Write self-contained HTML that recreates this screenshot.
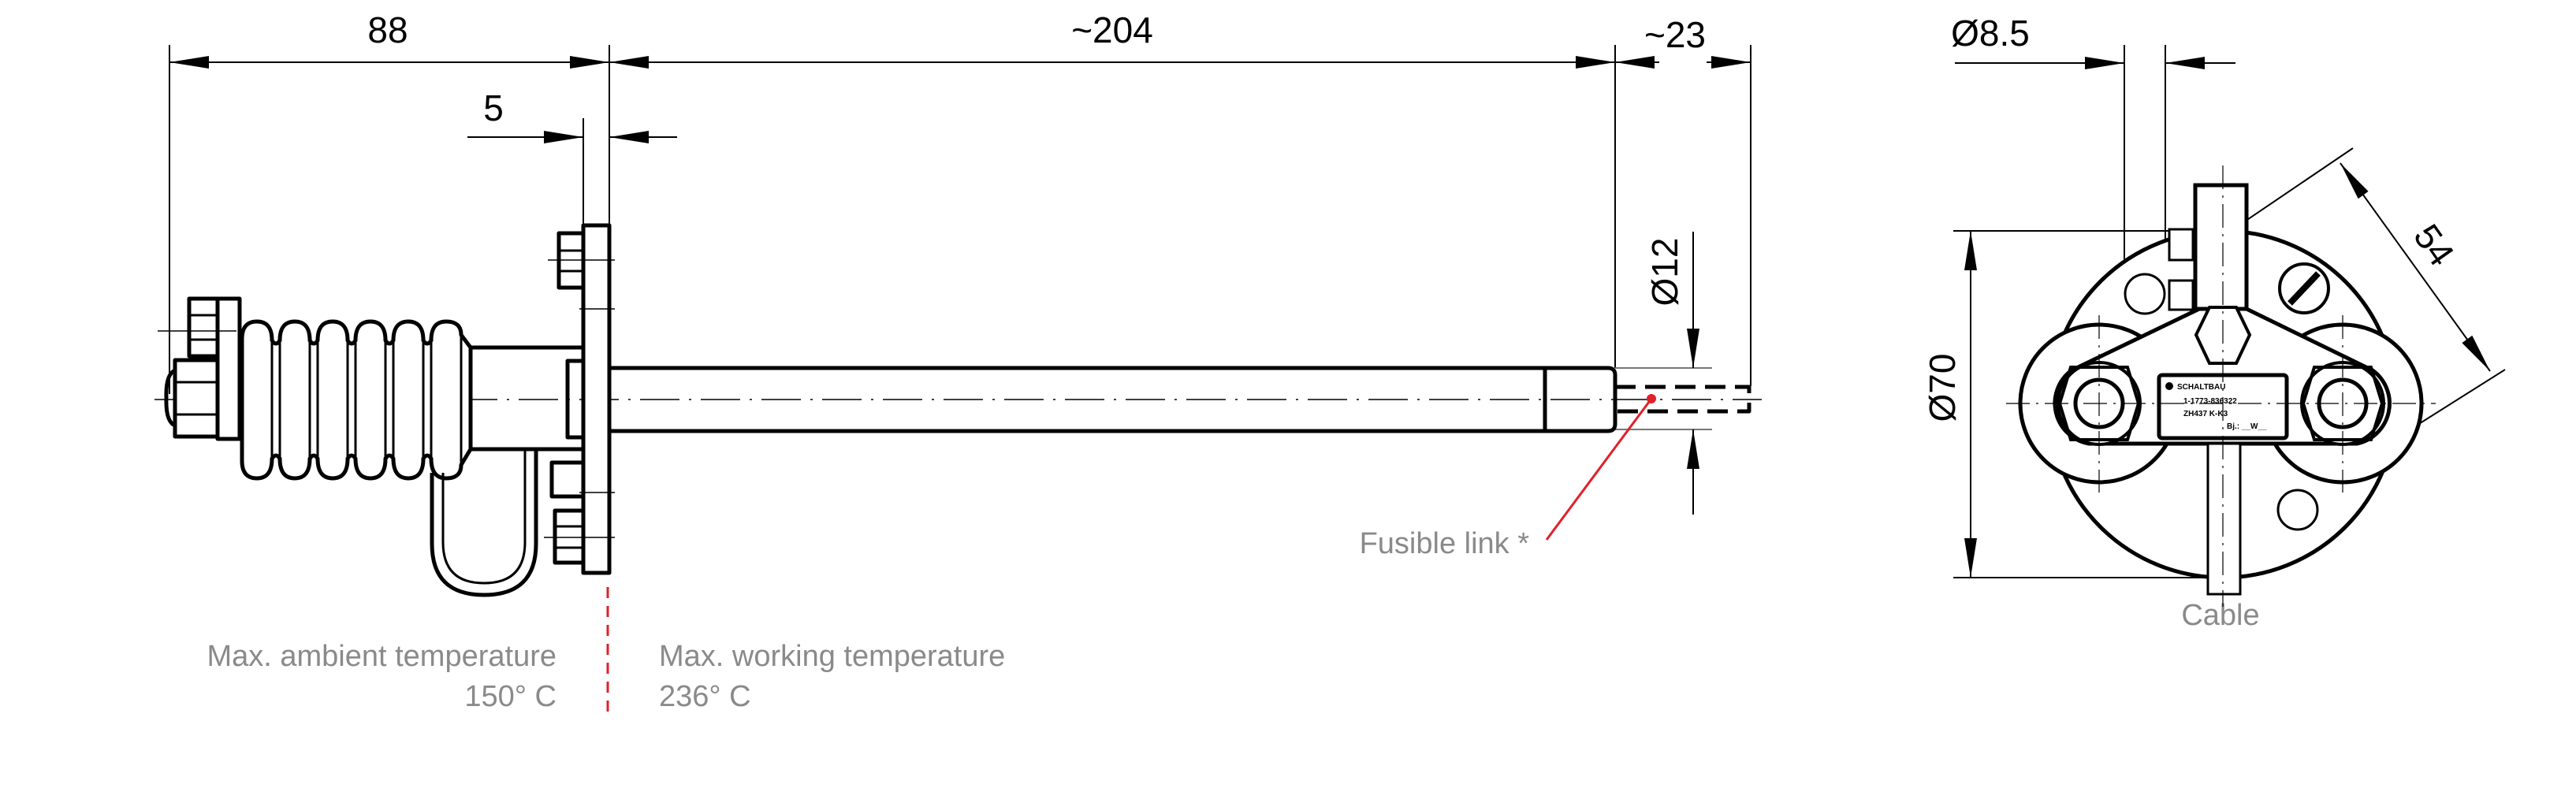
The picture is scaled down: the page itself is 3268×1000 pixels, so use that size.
<!DOCTYPE html>
<html><head><meta charset="utf-8"><style>
html,body{margin:0;padding:0;background:#fff}
svg{display:block}
text{font-family:"Liberation Sans",sans-serif}
</style></head><body>
<svg width="3268" height="1000" viewBox="0 0 3268 1000" xmlns="http://www.w3.org/2000/svg">
<defs>
<marker id="a" viewBox="0 0 10 10" refX="10" refY="5" markerWidth="50" markerHeight="16" markerUnits="userSpaceOnUse" orient="auto-start-reverse" preserveAspectRatio="none"><path d="M0,0 L10,5 L0,10 Z" fill="#000"/></marker>
</defs>
<g stroke="#000" stroke-width="2" fill="none">
<line x1="215" y1="57" x2="215" y2="500"/>
<line x1="773" y1="57" x2="773" y2="286"/>
<line x1="2049" y1="57" x2="2049" y2="467"/>
<line x1="2221" y1="57" x2="2221" y2="490"/>
<line x1="215" y1="79" x2="773" y2="79" marker-start="url(#a)" marker-end="url(#a)"/>
<line x1="773" y1="79" x2="2049" y2="79" marker-start="url(#a)" marker-end="url(#a)"/>
<line x1="2049" y1="79" x2="2105" y2="79" marker-start="url(#a)"/>
<line x1="2165" y1="79" x2="2221" y2="79" marker-end="url(#a)"/>
<line x1="740" y1="150" x2="740" y2="286"/>
<line x1="593" y1="174" x2="740" y2="174" marker-end="url(#a)"/>
<line x1="773" y1="174" x2="859" y2="174" marker-start="url(#a)"/>
<line x1="2049" y1="467" x2="2172" y2="467" stroke="#777"/>
<line x1="2049" y1="545" x2="2172" y2="545" stroke="#777"/>
<line x1="2148" y1="294" x2="2148" y2="467" marker-end="url(#a)"/>
<line x1="2148" y1="545" x2="2148" y2="653" marker-start="url(#a)"/>
</g>
<line x1="196" y1="507" x2="2235" y2="507" stroke="#000" stroke-width="1.5" stroke-dasharray="50,12,3,12"/>
<g stroke="#000" stroke-width="5" fill="none" stroke-linejoin="round">
<path d="M773,467 H2040 Q2049,467 2049,476 V538 Q2049,547 2040,547 H773"/>
<line x1="1960" y1="467" x2="1960" y2="547"/>
<path d="M2049,491 H2219 V522 H2049" stroke-dasharray="26,12"/>
<rect x="740" y="286" width="33" height="441" fill="#fff"/>
<rect x="720" y="458" width="20" height="97"/>
<path d="M597,441 H740 M597,570 H740"/>
<path d="M307,430 Q307,408 326,408 Q345,408 345,432 Q350,440 355,432 Q355,408 374,408 Q393,408 393,432 Q398,440 403,432 Q403,408 422,408 Q441,408 441,432 Q446,440 451,432 Q451,408 470,408 Q489,408 489,432 Q494,440 499,432 Q499,408 518,408 Q537,408 537,432 Q542,440 547,432 Q547,408 566,408 Q585,408 585,425 L597,441 V570 L585,590 Q585,607 566,607 Q547,607 547,582 Q542,574 537,582 Q537,607 518,607 Q499,607 499,582 Q494,574 489,582 Q489,607 470,607 Q451,607 451,582 Q446,574 441,582 Q441,607 422,607 Q403,607 403,582 Q398,574 393,582 Q393,607 374,607 Q355,607 355,582 Q350,574 345,582 Q345,607 326,607 Q307,607 307,585 Z" fill="#fff"/>
<path d="M345,432 V582 M355,432 V582 M393,432 V582 M403,432 V582 M441,432 V582 M451,432 V582 M489,432 V582 M499,432 V582 M537,432 V582 M547,432 V582 M585,425 V590" stroke-width="3"/>
<rect x="276" y="379" width="28" height="178" fill="#fff"/>
<rect x="240" y="379" width="36" height="73" fill="#fff"/>
<path d="M240,400 H276 M240,431 H276" stroke-width="3"/>
<rect x="222" y="457" width="54" height="97" fill="#fff"/>
<path d="M222,485 H276 M222,526 H276" stroke-width="3"/>
<path d="M222,470 Q210,475 211,505 Q210,535 222,540"/>
<rect x="709" y="296" width="31" height="69"/>
<path d="M709,318 H740 M709,344 H740" stroke-width="3"/>
<rect x="700" y="587" width="40" height="43"/>
<rect x="704" y="648" width="36" height="66"/>
<path d="M704,668 H740 M704,695 H740" stroke-width="3"/>
<path d="M548,600 V690 Q548,755 614,755 Q680,755 680,690 V570"/>
<path d="M562,600 V688 Q562,740 614,740 Q666,740 666,688 V570" stroke-width="3"/>
</g>
<g stroke="#000" stroke-width="1.5">
<line x1="200" y1="420" x2="300" y2="420"/>
<line x1="695" y1="330" x2="780" y2="330"/>
<line x1="735" y1="392" x2="780" y2="392"/>
<line x1="735" y1="625" x2="780" y2="625"/>
<line x1="690" y1="682" x2="780" y2="682"/>
</g>
<line x1="771" y1="745" x2="771" y2="912" stroke="#e0202a" stroke-width="3" stroke-dasharray="14,10"/>
<line x1="2095" y1="506" x2="1962" y2="685" stroke="#e0202a" stroke-width="3"/>
<circle cx="2095" cy="506" r="6" fill="#e0202a"/>
<g font-size="46" fill="#000" text-anchor="middle">
<text x="492" y="54">88</text>
<text x="626" y="153">5</text>
<text x="1411" y="54">~204</text>
<text x="2125" y="60">~23</text>
<text x="0" y="0" transform="translate(2128,345) rotate(-90)">Ø12</text>
</g>
<g font-size="38" fill="#8a8a8a">
<text x="706" y="845" text-anchor="end">Max. ambient temperature</text>
<text x="706" y="896" text-anchor="end">150° C</text>
<text x="836" y="845">Max. working temperature</text>
<text x="836" y="896">236° C</text>
<text x="1940" y="702" text-anchor="end">Fusible link *</text>
<text x="2817" y="793" text-anchor="middle">Cable</text>
</g>
<g stroke="#000" stroke-width="2" fill="none">
<line x1="2478" y1="293" x2="2790" y2="293"/>
<line x1="2478" y1="733" x2="2810" y2="733"/>
<line x1="2500" y1="293" x2="2500" y2="733" marker-start="url(#a)" marker-end="url(#a)"/>
<line x1="2695" y1="57" x2="2695" y2="395"/>
<line x1="2747" y1="57" x2="2747" y2="395"/>
<line x1="2480" y1="80" x2="2695" y2="80" marker-end="url(#a)"/>
<line x1="2747" y1="80" x2="2836" y2="80" marker-start="url(#a)"/>
<line x1="2985" y1="188" x2="2687" y2="390"/>
<line x1="3178" y1="469" x2="2942" y2="618"/>
<line x1="2969" y1="207" x2="3159" y2="471" marker-start="url(#a)" marker-end="url(#a)"/>
</g>
<g font-size="46" fill="#000" text-anchor="middle">
<text x="2525" y="58">Ø8.5</text>
<text x="0" y="0" transform="translate(2480,492) rotate(-90)">Ø70</text>
<text x="0" y="0" transform="translate(3075,320) rotate(55)">54</text>
</g>
<g stroke="#000" stroke-width="5" fill="#fff">
<circle cx="2820" cy="513" r="220"/>
<circle cx="2663" cy="512" r="100"/>
<circle cx="2972" cy="512" r="100"/>
<path d="M2650,563 A52,52 0 0 1 2628,470 L2790,392 Q2820,378 2850,392 L3010,470 A52,52 0 0 1 2990,563 Z"/>
<rect x="2785" y="235" width="65" height="157"/>
<rect x="2752" y="291" width="30" height="39" stroke-width="3"/>
<rect x="2752" y="356" width="30" height="37" stroke-width="3"/>
<circle cx="2721" cy="373" r="25" stroke-width="3"/>
<circle cx="2915" cy="647" r="25" stroke-width="3"/>
<circle cx="2923" cy="366" r="31" stroke-width="4"/>
<circle cx="2663" cy="512" r="52" stroke-width="4"/>
<circle cx="2972" cy="512" r="52" stroke-width="4"/>
<path d="M2613,512 l14,-46 h72 l14,46 l-14,46 h-72 Z" stroke-width="4" fill="none"/>
<path d="M2922,512 l14,-46 h72 l14,46 l-14,46 h-72 Z" stroke-width="4" fill="none"/>
<circle cx="2663" cy="512" r="30"/>
<circle cx="2972" cy="512" r="30"/>
<path d="M2803,390 H2837 L2854,425 L2837,461 H2803 L2786,425 Z" stroke-width="4"/>
<rect x="2739" y="476" width="162" height="80" rx="4"/>
<rect x="2801" y="563" width="41" height="191" stroke-width="3"/>
</g>
<line x1="2905" y1="385" x2="2941" y2="347" stroke="#000" stroke-width="8"/>
<g stroke="#000" stroke-width="1.2" fill="none" stroke-dasharray="30,8,3,8">
<line x1="2820" y1="210" x2="2820" y2="770"/>
<line x1="2545" y1="512" x2="3090" y2="512"/>
<line x1="2663" y1="400" x2="2663" y2="625"/>
<line x1="2972" y1="400" x2="2972" y2="625"/>
</g>
<g fill="#000" font-size="10" font-weight="bold">
<circle cx="2752" cy="490" r="5"/>
<text x="2762" y="494">SCHALTBAU</text>
<text x="2770" y="512">1-1773-836322</text>
<text x="2770" y="528">ZH437 K-K3</text>
<text x="2825" y="544">Bj.: __W__</text>
</g>
</svg>
</body></html>
